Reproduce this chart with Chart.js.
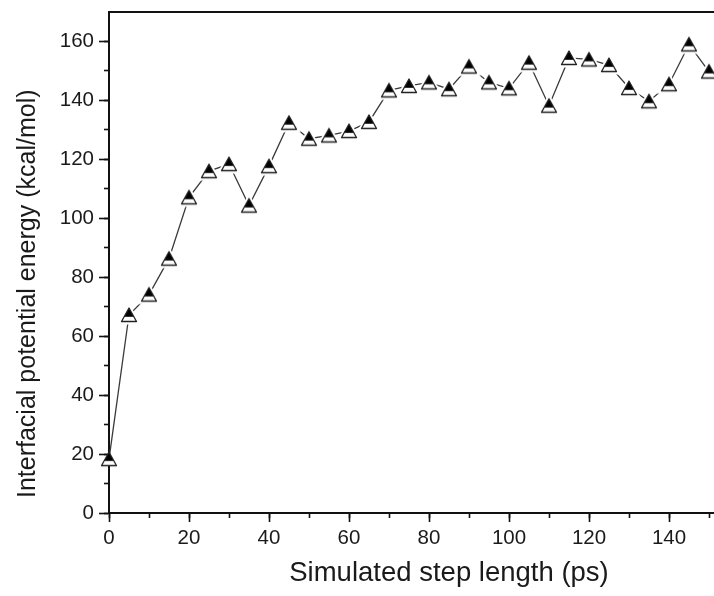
<!DOCTYPE html>
<html><head><meta charset="utf-8">
<script src="https://cdn.jsdelivr.net/npm/chart.js@4.4.1/dist/chart.umd.min.js"></script>
<style>html,body{margin:0;padding:0;background:#fff;overflow:hidden;}#wrap{width:800px;height:596px;}</style>
</head><body><div id="wrap"><canvas id="c" width="800" height="596"></canvas></div>
<script>
const stepLength = [0,5,10,15,20,25,30,35,40,45,50,55,60,65,70,75,80,85,90,95,100,105,110,115,120,125,130,135,140,145,150];
const potentialEnergy = [18.3,67.2,74.1,86.3,107.1,116.0,118.4,104.3,117.7,132.4,127.0,128.1,129.6,132.7,143.4,144.9,146.1,143.8,151.5,146.1,144.1,152.8,138.2,154.4,153.9,152.0,144.2,139.7,145.5,159.0,149.8];
const xTickValues = [0,20,40,60,80,100,120,140];
const yTickValues = [0,20,40,60,80,100,120,140,160];
const xTitle = 'Simulated step length (ps)';
const yTitle = 'Interfacial potential energy (kcal/mol)';

const FAMILY = '"Liberation Sans", Arial, Helvetica, sans-serif';
const INK = '#111';
const TEXT = '#1a1a1a';
const AXIS_MAX = 170;

function makeMarker(halo){
  const s = 28, c = 14;
  const cv = document.createElement('canvas'); cv.width = s; cv.height = s;
  const g = cv.getContext('2d');
  const tri = (hw, top, bot) => { g.beginPath(); g.moveTo(c, c + top); g.lineTo(c + hw, c + bot); g.lineTo(c - hw, c + bot); g.closePath(); };
  if (halo) { g.fillStyle = '#fff'; tri(12, -12, 9.5); g.fill(); }
  tri(7.5, -7, 6.5); g.fillStyle = '#fff'; g.fill();
  g.save(); tri(7.5, -7, 6.5); g.clip(); g.fillStyle = '#000'; g.fillRect(0, 0, s, c + 1.8); g.restore();
  g.strokeStyle = '#222'; g.lineWidth = 1.3; g.lineJoin = 'round'; tri(7.5, -7, 6.5); g.stroke();
  return cv;
}
const plainMarker = makeMarker(false);
const haloMarker = makeMarker(true);

const points = stepLength.map((x, i) => ({x: x, y: potentialEnergy[i]}));

function shiftedTitle(scale, dy){
  if (scale._titleShifted) return;
  scale._titleShifted = true;
  const orig = scale.drawTitle;
  scale.drawTitle = function(){ const b = this.bottom; this.bottom = b - dy; orig.call(this); this.bottom = b; };
}

new Chart(document.getElementById('c'), {
  type: 'line',
  data: { datasets: [{
    data: points,
    borderColor: '#3a3a3a', borderWidth: 1.3, tension: 0, fill: false, clip: false,
    pointStyle: ctx => ctx.dataIndex === 0 ? plainMarker : haloMarker,
    pointRadius: 7, pointHoverRadius: 7
  }]},
  options: {
    responsive: false, animation: false, devicePixelRatio: 1,
    layout: { padding: { left: 0, right: 11, top: 0, bottom: 0 } },
    plugins: { legend: { display: false }, tooltip: { enabled: false } },
    scales: {
      x: {
        type: 'linear', position: 'bottom', min: 0, max: AXIS_MAX,
        afterFit: s => { s.height = 83; s.paddingLeft = 0; s.paddingRight = 0; },
        afterBuildTicks: s => { s.ticks = xTickValues.map(v => ({value: v})); },
        ticks: { font: { family: FAMILY, size: 20.5 }, color: TEXT, padding: 4, maxRotation: 0, autoSkip: false },
        grid: { drawOnChartArea: false, drawTicks: true, tickLength: 9, tickWidth: 1.6, tickColor: INK },
        border: { display: true, color: INK, width: 2 },
        title: { display: true, text: xTitle, font: { family: FAMILY, size: 27.5 }, color: TEXT, padding: { top: 0, bottom: 6 } }
      },
      y: {
        type: 'linear', position: 'left', min: 0, max: AXIS_MAX,
        afterFit: s => { s.width = 109; s.paddingTop = 0; s.paddingBottom = 0; shiftedTitle(s, 15); },
        afterBuildTicks: s => { s.ticks = yTickValues.map(v => ({value: v})); },
        ticks: { font: { family: FAMILY, size: 20.5 }, color: TEXT, padding: 5 },
        grid: { drawOnChartArea: false, drawTicks: true, tickLength: 10, tickWidth: 1.6, tickColor: INK },
        border: { display: true, color: INK, width: 2 },
        title: { display: true, text: yTitle, align: 'start', font: { family: FAMILY, size: 25 }, color: TEXT, padding: { top: 13, bottom: 0 } }
      },
      xMinor: {
        type: 'linear', axis: 'x', position: { y: 0 }, min: 0, max: AXIS_MAX,
        afterBuildTicks: s => { s.ticks = s.ticks.filter(t => t.value < AXIS_MAX); },
        ticks: { display: false, stepSize: 10, includeBounds: false },
        grid: { drawOnChartArea: false, drawTicks: true, tickLength: 5, tickWidth: 1.6, tickColor: INK },
        border: { display: false }
      },
      yMinor: {
        type: 'linear', axis: 'y', position: { x: 0 }, min: 0, max: AXIS_MAX,
        afterBuildTicks: s => { s.ticks = s.ticks.filter(t => t.value < AXIS_MAX); },
        ticks: { display: false, stepSize: 10, includeBounds: false },
        grid: { drawOnChartArea: false, drawTicks: true, tickLength: 5, tickWidth: 1.6, tickColor: INK },
        border: { display: false }
      },
      xTop: {
        type: 'linear', axis: 'x', position: 'top', min: 0, max: AXIS_MAX,
        afterFit: s => { s.height = 12; s.paddingLeft = 0; s.paddingRight = 0; },
        ticks: { display: false },
        grid: { drawOnChartArea: false, drawTicks: false },
        border: { display: true, color: INK, width: 2 }
      }
    }
  }
});
</script>
</body></html>
